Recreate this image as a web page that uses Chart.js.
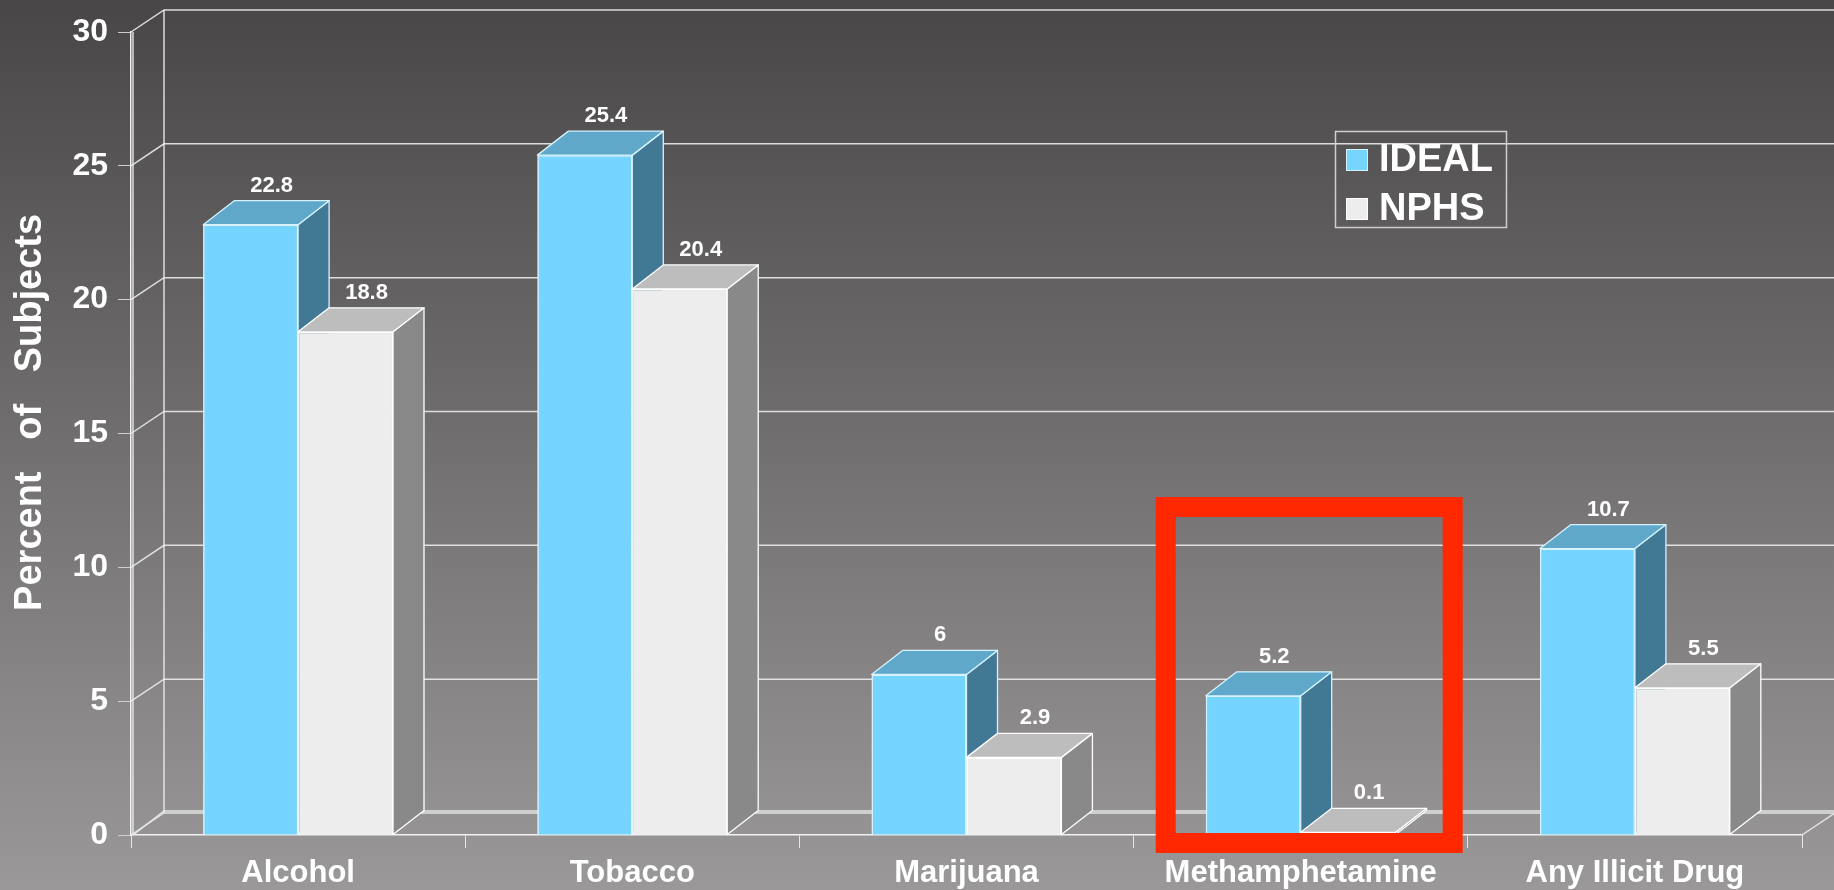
<!DOCTYPE html>
<html>
<head>
<meta charset="utf-8">
<title>Percent of Subjects: IDEAL vs NPHS</title>
<script src="https://cdn.jsdelivr.net/npm/chart.js@4.4.0/dist/chart.umd.min.js"></script>
<style>
  html, body { margin: 0; padding: 0; background: #6e6c6c; }
  #wrap { width: 1834px; height: 890px; position: relative; }
</style>
</head>
<body>
<div id="wrap"><canvas id="drug-chart"></canvas></div>
<script>
const categories = ['Alcohol', 'Tobacco', 'Marijuana', 'Methamphetamine', 'Any Illicit Drug'];
const idealValues = [22.8, 25.4, 6, 5.2, 10.7];
const nphsValues = [18.8, 20.4, 2.9, 0.1, 5.5];
const yTicks = [0, 5, 10, 15, 20, 25, 30];
const seriesNames = ['IDEAL', 'NPHS'];
const highlighted = 'Methamphetamine';

const FONT = '"Liberation Sans", Arial, Helvetica, sans-serif';
const WALL_DX = 33, WALL_DY = -22;   // depth of the back wall
const BAR_DX = 31, BAR_DY = -24;     // depth of each bar
const LINE = 'rgba(236,236,236,0.9)';

function poly(ctx, pts, fill) {
    ctx.beginPath();
    ctx.moveTo(pts[0][0], pts[0][1]);
    for (let i = 1; i < pts.length; i++) ctx.lineTo(pts[i][0], pts[i][1]);
    ctx.closePath();
    ctx.fillStyle = fill;
    ctx.fill();
    ctx.stroke();
}

// background, walls, back grid lines, 3d faces, labels, legend
const walls = {
    id: 'walls',
    beforeDraw(chart) {
        const { ctx, width, height } = chart;
        const g = ctx.createLinearGradient(0, 0, 0, height);
        g.addColorStop(0, '#484646');
        g.addColorStop(1, '#9a9898');
        ctx.save();
        ctx.fillStyle = g;
        ctx.fillRect(0, 0, width, height);
        ctx.restore();
    },
    beforeDatasetsDraw(chart) {
        const { ctx, chartArea: a, scales: { y } } = chart;
        const edge = chart.width;
        const yTop = y.getPixelForValue(yTicks[yTicks.length - 1]);
        const y0 = y.getPixelForValue(0);
        ctx.save();
        ctx.strokeStyle = LINE;
        ctx.lineWidth = 1.5;
        yTicks.forEach(v => {
            const py = y.getPixelForValue(v);
            ctx.beginPath();
            ctx.moveTo(a.left, py);
            ctx.lineTo(a.left + WALL_DX, py + WALL_DY);
            ctx.lineTo(edge, py + WALL_DY);
            ctx.stroke();
        });
        // floor thickness
        ctx.beginPath();
        ctx.moveTo(a.left + 2, y0);
        ctx.lineTo(a.left + WALL_DX, y0 + WALL_DY - 2);
        ctx.lineTo(edge, y0 + WALL_DY - 2);
        ctx.stroke();
        // back wall edge and inner side wall edge
        ctx.beginPath();
        ctx.moveTo(a.left + WALL_DX, yTop + WALL_DY);
        ctx.lineTo(a.left + WALL_DX, y0 + WALL_DY);
        ctx.moveTo(a.left + 2, yTop);
        ctx.lineTo(a.left + 2, y0);
        // right end of the floor
        ctx.moveTo(a.right, y0);
        ctx.lineTo(a.right + WALL_DX, y0 + WALL_DY);
        ctx.stroke();
        ctx.restore();
    },
    afterDatasetsDraw(chart) {
        const ctx = chart.ctx;
        // redraw bars front to back: first series, then second, each with its top and side
        chart.data.datasets.forEach((ds, i) => {
            chart.getDatasetMeta(i).data.forEach(bar => {
                bar.draw(ctx);
                const { x, y, base, width } = bar.getProps(['x', 'y', 'base', 'width'], true);
                const x1 = x - width / 2, x2 = x + width / 2;
                ctx.save();
                ctx.lineWidth = 1.3;
                ctx.strokeStyle = ds.borderColor;
                ctx.lineJoin = 'round';
                poly(ctx, [[x2, y], [x2 + BAR_DX, y + BAR_DY], [x2 + BAR_DX, base + BAR_DY], [x2, base]], ds.sideColor);
                poly(ctx, [[x1, y], [x1 + BAR_DX, y + BAR_DY], [x2 + BAR_DX, y + BAR_DY], [x2, y]], ds.topColor);
                ctx.restore();
            });
        });
        ctx.save();
        ctx.fillStyle = '#ffffff';
        ctx.font = 'bold 22px ' + FONT;
        ctx.textAlign = 'center';
        ctx.textBaseline = 'alphabetic';
        chart.data.datasets.forEach((ds, i) => {
            chart.getDatasetMeta(i).data.forEach((bar, j) => {
                ctx.fillText(String(ds.data[j]), bar.x + 21, bar.y + BAR_DY - 9);
            });
        });
        ctx.restore();
    },
    afterDraw(chart) {
        const { ctx, scales: { x, y } } = chart;
        ctx.save();
        // legend
        ctx.strokeStyle = '#cfcfcf';
        ctx.lineWidth = 1.5;
        ctx.strokeRect(1335.5, 131.5, 171, 96);
        ctx.font = 'bold 38px ' + FONT;
        ctx.textAlign = 'left';
        ctx.textBaseline = 'alphabetic';
        chart.data.datasets.forEach((ds, i) => {
            const top = 149 + i * 49;
            ctx.fillStyle = ds.backgroundColor;
            ctx.fillRect(1346, top, 22, 22);
            ctx.strokeStyle = ds.borderColor;
            ctx.lineWidth = 1;
            ctx.strokeRect(1346.5, top + 0.5, 21, 21);
            ctx.fillStyle = '#ffffff';
            ctx.fillText(ds.label, 1379, top + 22);
        });
        // red highlight box
        const cx = x.getPixelForValue(categories.indexOf(highlighted));
        const y0 = y.getPixelForValue(0);
        ctx.strokeStyle = '#ff2800';
        ctx.lineWidth = 20;
        ctx.strokeRect(cx - 135, y0 - 328, 287, 336);
        ctx.restore();
    }
};

new Chart(document.getElementById('drug-chart').getContext('2d'), {
    type: 'bar',
    data: {
        labels: categories,
        datasets: [{
            label: seriesNames[0],
            data: idealValues,
            backgroundColor: '#76d5ff',
            borderColor: '#d6f2ff',
            topColor: '#5fa8ca',
            sideColor: '#417893',
            borderWidth: 1.5
        }, {
            label: seriesNames[1],
            data: nphsValues,
            backgroundColor: '#ededed',
            borderColor: '#ffffff',
            topColor: '#bdbdbd',
            sideColor: '#898989',
            borderWidth: 1.5
        }]
    },
    options: {
        responsive: true,
        maintainAspectRatio: false,
        animation: false,
        layout: { padding: { top: 32, right: 32, left: 0, bottom: 0 } },
        categoryPercentage: 0.568,
        barPercentage: 1.0,
        scales: {
            x: {
                afterFit: s => { s.height = 55; },
                grid: { display: true, drawOnChartArea: false, drawTicks: true, tickLength: 13, color: '#e6e6e6', offset: true },
                border: { display: true, color: '#f2f2f2', width: 1.5 },
                ticks: { color: '#ffffff', padding: 7, font: { family: FONT, size: 31, weight: 'bold' } }
            },
            y: {
                min: 0,
                max: 30,
                afterFit: s => { s.width = 131; },
                afterBuildTicks: s => { s.ticks = yTicks.map(v => ({ value: v })); },
                grid: { display: true, drawOnChartArea: false, drawTicks: true, tickLength: 13, color: '#cfcfcf' },
                border: { display: true, color: '#f2f2f2', width: 1.5 },
                ticks: { color: '#ffffff', padding: 10, font: { family: FONT, size: 32, weight: 'bold' } },
                title: {
                    display: true,
                    text: '    Percent   of   Subjects',
                    color: '#ffffff',
                    padding: { top: 8, bottom: 0 },
                    font: { family: FONT, size: 38, weight: 'bold' }
                }
            }
        },
        plugins: {
            legend: { display: false },
            tooltip: { enabled: false }
        }
    },
    plugins: [walls]
});
</script>
</body>
</html>
